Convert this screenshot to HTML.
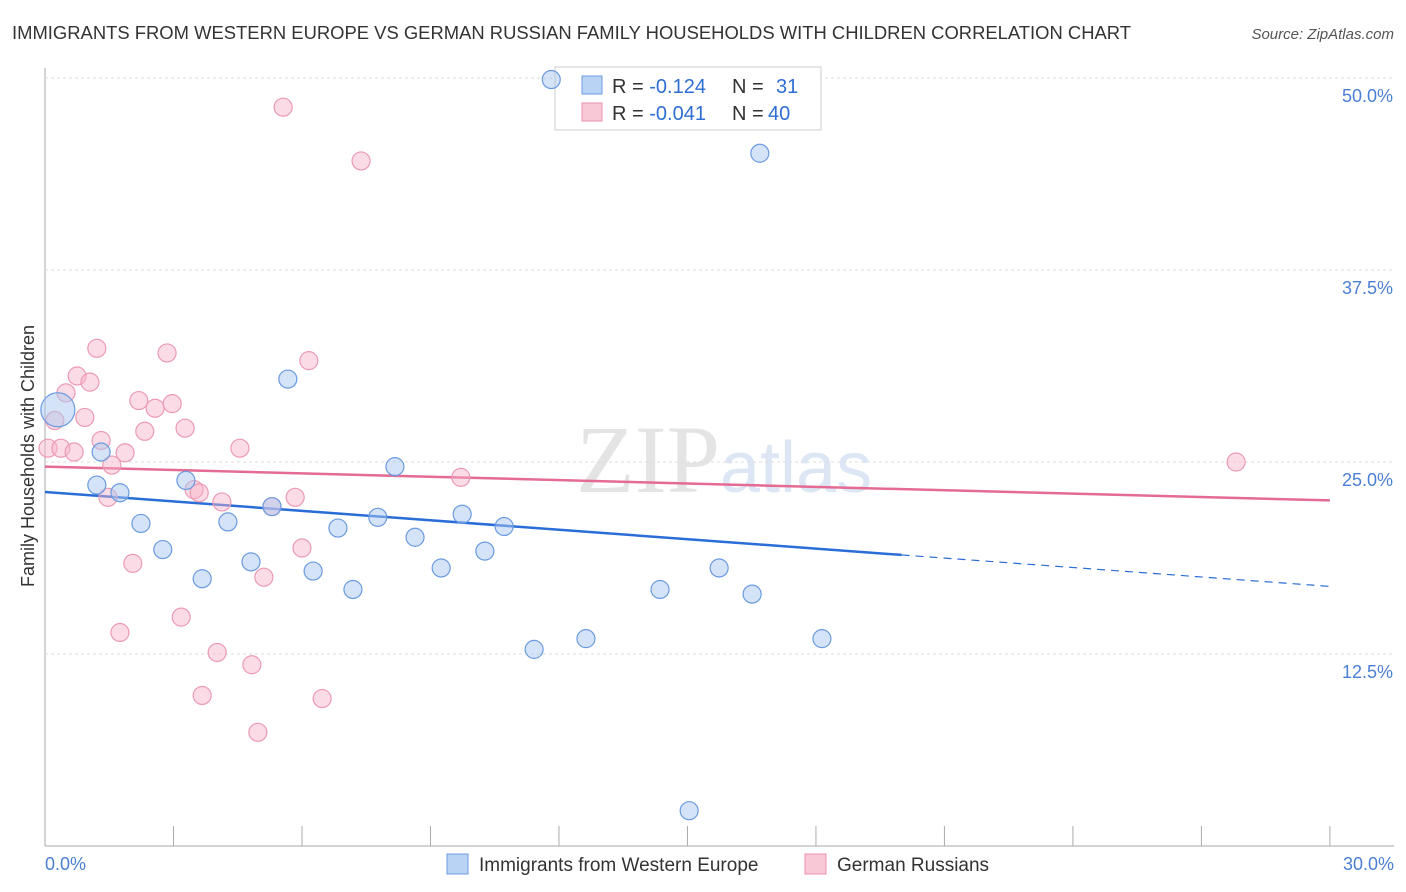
<!DOCTYPE html>
<html><head><meta charset="utf-8"><style>
body{margin:0;background:#fff;font-family:"Liberation Sans",sans-serif;}
svg{display:block}
</style></head><body>
<svg id="c" width="1406" height="892">
<text x="12" y="39" font-size="18" fill="#333" textLength="1119" lengthAdjust="spacingAndGlyphs">IMMIGRANTS FROM WESTERN EUROPE VS GERMAN RUSSIAN FAMILY HOUSEHOLDS WITH CHILDREN CORRELATION CHART</text>
<text x="1394" y="39" font-size="15" fill="#555" font-style="italic" text-anchor="end">Source: ZipAtlas.com</text>
<text x="720" y="492" font-size="96" fill="#e4e4e4" text-anchor="end" font-family="Liberation Serif">ZIP</text>
<text x="720" y="492" font-size="72" fill="#dde6f4">atlas</text>
<text transform="translate(34,456) rotate(-90)" font-size="18" fill="#333" text-anchor="middle">Family Households with Children</text>
<g id="grid"></g><g id="trend"></g>
<g>
<rect x="555" y="67" width="266" height="63" fill="#fff" stroke="#ccc"/>
<rect x="582" y="76" width="20" height="18" fill="#b9d3f5" stroke="#6a9be0"/>
<rect x="582" y="103" width="20" height="18" fill="#f9c8d6" stroke="#e890aa"/>
<text x="612" y="93" font-size="20" fill="#333">R = <tspan fill="#2f6fd4">-0.124</tspan><tspan x="732">N = </tspan><tspan fill="#2f6fd4" x="776">31</tspan></text>
<text x="612" y="120" font-size="20" fill="#333">R = <tspan fill="#2f6fd4">-0.041</tspan><tspan x="732">N = </tspan><tspan fill="#2f6fd4" x="768">40</tspan></text>
</g>
<g id="pts"></g>
<g>
<rect x="447" y="854" width="21" height="20" fill="#b9d3f5" stroke="#6a9be0"/>
<text x="479" y="871" font-size="19" fill="#333">Immigrants from Western Europe</text>
<rect x="805" y="854" width="21" height="20" fill="#f9c8d6" stroke="#e890aa"/>
<text x="837" y="871" font-size="19" fill="#333">German Russians</text>
</g>
</svg>
<script>
const xTicks=[0,3,6,9,12,15,18,21,24,27,30];
const yTicks=[12.5,25,37.5,50];
const blueX=[0.30,1.31,1.21,1.75,2.24,2.75,3.29,3.67,4.27,4.81,5.30,5.67,6.26,6.84,7.19,7.77,8.17,8.64,9.25,9.74,10.27,10.72,11.42,11.82,12.63,14.36,15.74,16.51,16.69,18.14,15.04];
const blueY=[28.4,25.65,23.5,23.0,21.0,19.3,23.8,17.4,21.1,18.5,22.1,30.4,17.9,20.7,16.7,21.4,24.7,20.1,18.1,21.6,19.2,20.8,12.8,49.9,13.5,16.7,18.1,16.4,45.1,13.5,2.3];
const pinkX=[0.07,0.23,0.37,0.49,0.75,0.93,1.05,1.21,1.31,1.47,1.56,1.75,1.87,2.05,2.19,2.33,2.57,2.85,2.97,3.18,3.27,3.48,3.60,3.67,4.02,4.13,4.55,4.83,4.97,5.11,5.30,5.56,5.84,6.00,6.16,6.47,7.38,9.71,27.81,0.68];
const pinkY=[25.9,27.7,25.9,29.5,30.6,27.9,30.2,32.4,26.4,22.7,24.8,13.9,25.6,18.4,29.0,27.0,28.5,32.1,28.8,14.9,27.2,23.2,23.0,9.8,12.6,22.4,25.9,11.8,7.4,17.5,22.1,48.1,22.7,19.4,31.6,9.6,44.6,24.0,25.0,25.65];
const blueTrend=[23.05,16.9]; // y at x=0 and x=30
const pinkTrend=[24.7,22.5];
const blueSolidEnd=20;
const X=v=>45+v*42.83, Y=v=>846-v*15.36;
const NS="http://www.w3.org/2000/svg";
function mk(p,t,a){const e=document.createElementNS(NS,t);for(const k in a)e.setAttribute(k,a[k]);p.appendChild(e);return e;}
const g=document.getElementById('grid');
let ax=mk(g,'line',{x1:45,y1:68,x2:45,y2:846,stroke:'#aaa'});


let bx=mk(g,'line',{x1:45,y1:846,x2:1394,y2:846,stroke:'#aaa'});


yTicks.forEach(t=>{
 const l=mk(g,'line',{x1:45,y1:Y(t),x2:1394,y2:Y(t),stroke:'#ddd','stroke-dasharray':'3,3'});
 
 
 const tx=mk(g,'text',{x:1393,y:Y(t)+24,'font-size':18,fill:'#4a7fd4','text-anchor':'end'});
 tx.textContent=t.toFixed(1)+'%';
 
 
});
xTicks.forEach(t=>{
 const l=mk(g,'line',{x1:X(t),y1:826,x2:X(t),y2:846,stroke:'#aaa'});
 
 
});
[[0,'start',45],[30,'end',1394]].forEach(([v,a,x])=>{
 const tx=mk(g,'text',{x:x,y:870,'font-size':18,fill:'#4a7fd4','text-anchor':a});
 tx.textContent=v.toFixed(1)+'%';
 
 
});
const tr=document.getElementById('trend');
const by=x=>blueTrend[0]+(blueTrend[1]-blueTrend[0])*x/30;
let l1=mk(tr,'line',{x1:X(0),y1:Y(blueTrend[0]),x2:X(blueSolidEnd),y2:Y(by(blueSolidEnd)),stroke:'#2a6dd6','stroke-width':2.5});


let l2=mk(tr,'line',{x1:X(blueSolidEnd),y1:Y(by(blueSolidEnd)),x2:X(30),y2:Y(blueTrend[1]),stroke:'#2a6dd6','stroke-width':1.2,'stroke-dasharray':'8,6'});


let l3=mk(tr,'line',{x1:X(0),y1:Y(pinkTrend[0]),x2:X(30),y2:Y(pinkTrend[1]),stroke:'#e46b92','stroke-width':2.5});


const pg=document.getElementById('pts');
pinkX.forEach((x,i)=>{
 const c=mk(pg,'circle',{cx:X(x),cy:Y(pinkY[i]),r:9,fill:'rgba(246,178,200,0.45)',stroke:'#ec9ab4','stroke-width':1.2});
 
 
});
blueX.forEach((x,i)=>{
 const c=mk(pg,'circle',{cx:X(x),cy:Y(blueY[i]),r:i==0?17:9,fill:'rgba(170,200,240,0.5)',stroke:'#6a9be0','stroke-width':1.2});
 
 
});
</script>
</body></html>
